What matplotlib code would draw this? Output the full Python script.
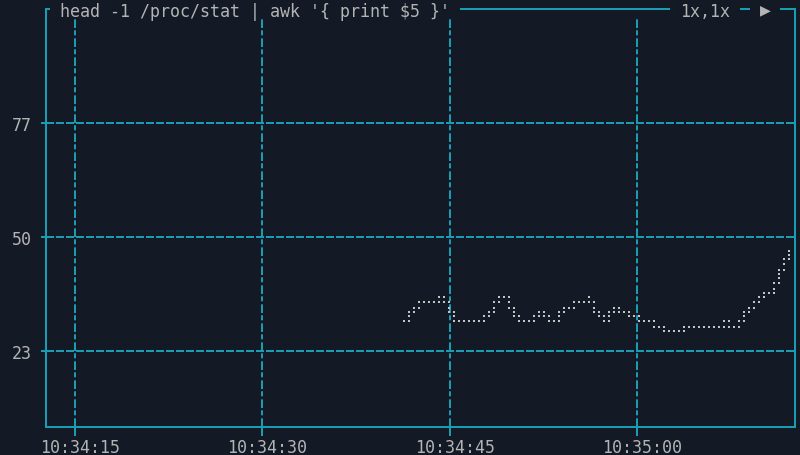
import numpy as np
import matplotlib
matplotlib.use("Agg")
import matplotlib.pyplot as plt
from matplotlib.transforms import IdentityTransform, ScaledTranslation
from matplotlib.lines import Line2D
from matplotlib.patches import Rectangle

# ---------------- data ----------------
TITLE = "head -1 /proc/stat | awk '{ print $5 }'"
ZOOM_LABEL = "1x,1x"
PLAY_GLYPH = "\u25B6"

X_TICKS = [15, 30, 45, 60]                      # seconds after 10:34:00
X_TICK_LABELS = ["10:34:15", "10:34:30", "10:34:45", "10:35:00"]
Y_TICKS = [23, 50, 77]
Y_TICK_LABELS = ["23", "50", "77"]

SAMPLE_START = 41.4                              # seconds after 10:34:00
SAMPLE_STEP = 0.4                                # seconds between samples
VALUES = [
    29.5, 31.2, 32.8, 34.7, 34.7, 34.7, 34.7, 35.7, 35.2, 32.8, 30.7,
    30.2, 30.2, 30.2, 30.2, 30.2, 30.2,
    31.7, 33.3, 35.2, 36.2, 34.7, 31.2,
    30.2, 30.2, 30.2,
    31.2, 32.2, 31.2, 30.2, 29.5, 31.7, 33.3, 33.3,
    34.7, 34.7, 34.7,
    35.2, 33.3, 31.7, 29.5, 31.7, 33.3, 32.2, 32.2, 31.2, 31.2,
    30.2, 30.2, 30.2,
    28.9, 28.9,
    27.7, 27.7, 27.7, 27.7,
    28.9, 28.9, 28.9, 28.9, 28.9, 28.9, 28.9, 28.9,
    30.2,
    28.9, 28.9,
    29.5, 31.2, 32.8, 34.7, 35.7,
    36.7, 36.7,
    37.9, 40.8, 43.6, 46.3,
]

# ---------------- style ----------------
W, H, DPI = 800, 456, 100
BG = "#131a26"
CYAN = "#1a9cb2"
GREY = "#b4b4b4"
DOT = "#c4c4c4"
FONT = ["DejaVu Sans Mono", "DejaVu Sans"]
PX = 72.0 / DPI  # points per pixel

plt.rcParams["lines.scale_dashes"] = False
plt.rcParams["font.family"] = FONT

fig = plt.figure(figsize=(W / DPI, H / DPI), dpi=DPI, facecolor=BG)

# axes frame in pixels (left, right, top, bottom measured from top-left)
L, R, T, B = 46, 795, 10, 428
ax = fig.add_axes([L / W, (H - B) / H, (R - L) / W, (B - T) / H])
ax.set_facecolor(BG)

ax.set_xlim(12.7, 72.62)
ax.set_ylim(5, 104)

for side in ["left", "right", "bottom"]:
    ax.spines[side].set_color(CYAN)
    ax.spines[side].set_linewidth(2 * PX)
ax.spines["top"].set_visible(False)

ax.set_xticks(X_TICKS)
ax.set_xticklabels(X_TICK_LABELS)
ax.set_yticks(Y_TICKS)
ax.set_yticklabels(Y_TICK_LABELS)
ax.tick_params(axis="x", colors=CYAN, labelcolor=GREY, labelsize=12,
               length=9 * PX, width=2 * PX, pad=1.4, direction="out")
ax.tick_params(axis="y", colors=CYAN, labelcolor=GREY, labelsize=12,
               length=5 * PX, width=2 * PX, pad=6.8, direction="out")
shift = ScaledTranslation(5 / DPI, 0, fig.dpi_scale_trans)
for lab in ax.get_xticklabels():
    lab.set_transform(lab.get_transform() + shift)

ax.xaxis.grid(True, color=CYAN, linewidth=2 * PX,
              linestyle=(0, (8.7 * PX, 3 * PX, 5 * PX, 2.3 * PX)))
ax.yaxis.grid(True, color=CYAN, linewidth=2 * PX,
              linestyle=(0, (8 * PX, 2 * PX)))
ax.set_axisbelow(True)

# mask the title row so gridlines start below it
mask = Rectangle((L + 1, H - 19), R - L - 2, 10, transform=IdentityTransform(),
                 facecolor=BG, edgecolor="none", zorder=1.8, clip_on=False)
ax.add_artist(mask)

# top border segments around the title texts
ytop = H - T
for x0, x1 in [(L - 1, 50), (460, 670), (740, 750), (780, R + 1)]:
    fig.add_artist(Line2D([x0, x1], [ytop, ytop], transform=IdentityTransform(),
                          color=CYAN, linewidth=2 * PX, solid_capstyle="butt"))

fig.text(60 / W, ytop / H, TITLE, color=GREY, fontsize=12, ha="left",
         va="center_baseline", family=FONT)
fig.text(680 / W, ytop / H, ZOOM_LABEL, color=GREY, fontsize=12, ha="left",
         va="center_baseline", family=FONT)
fig.text(765 / W, ytop / H, PLAY_GLYPH, color=GREY, fontsize=13, ha="center",
         va="center", family=FONT)

# ---------------- braille-like dot rendering of the series ----------------
times = SAMPLE_START + SAMPLE_STEP * np.arange(len(VALUES))
pts = ax.transData.transform(np.column_stack([times, VALUES]))
fine = []
for i in range(len(pts) - 1):
    a, b = pts[i], pts[i + 1]
    for s in np.linspace(0, 1, 25):
        fine.append(a + (b - a) * s)
fine = np.array(fine)
colx = 4.3 + 5 * np.round((fine[:, 0] - 4.3) / 5)
ypix = H - fine[:, 1]
rows = (19 * np.arange(25)[:, None] + 4.5 + 4.4 * np.arange(4)[None, :]).ravel()
idx = np.argmin(np.abs(ypix[:, None] - rows[None, :]), axis=1)
dots = np.unique(np.column_stack([colx, rows[idx]]), axis=0)
ax.add_line(Line2D(dots[:, 0], H - dots[:, 1], transform=IdentityTransform(),
                   linestyle="none", marker="s", markersize=2 * PX,
                   markeredgewidth=0, markerfacecolor=DOT, zorder=5))

fig.savefig("out.png", dpi=DPI, facecolor=BG)
